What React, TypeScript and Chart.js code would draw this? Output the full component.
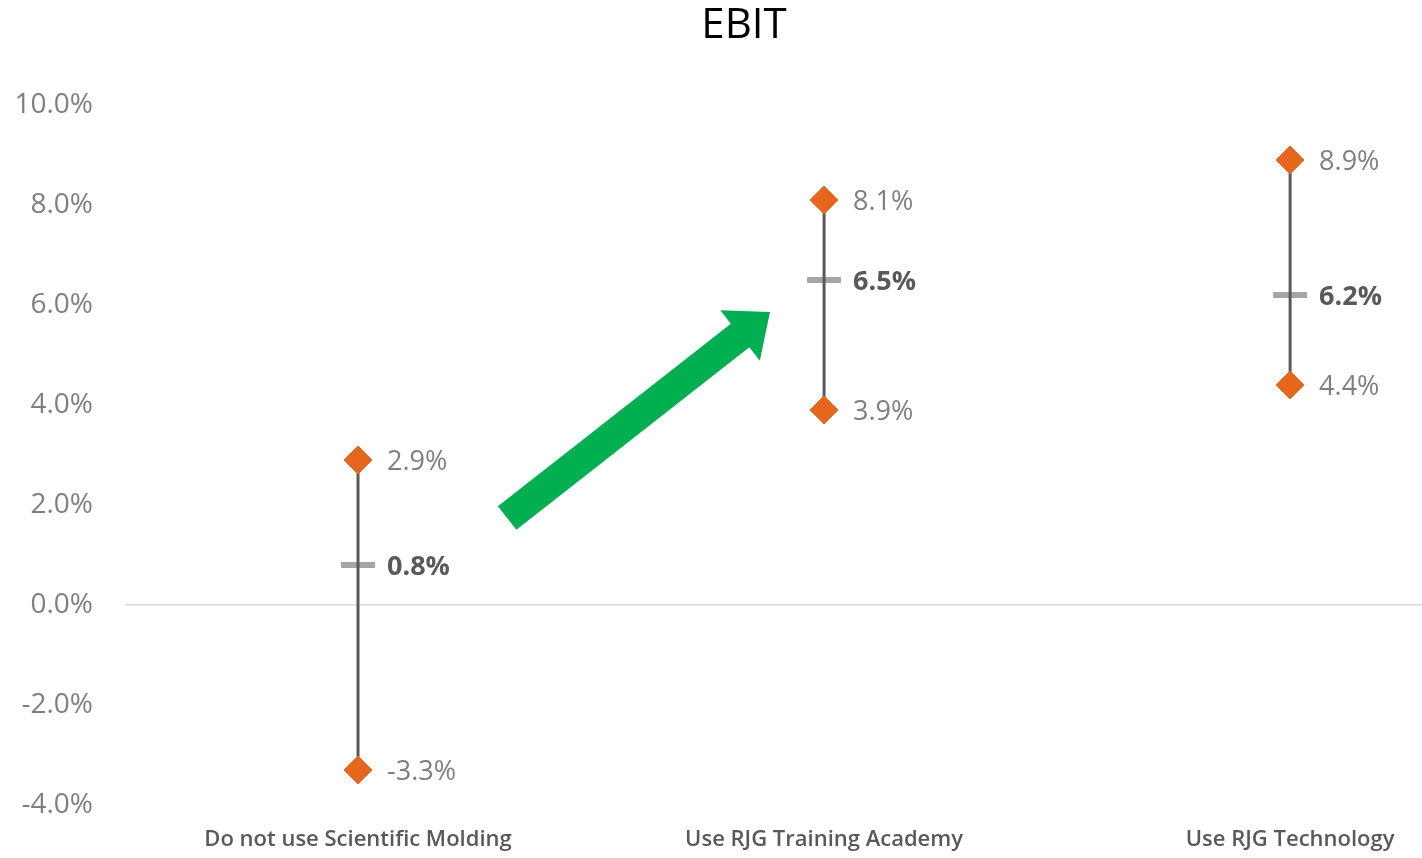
import React, { useEffect, useRef } from "react";
import { Chart, registerables } from "chart.js";

Chart.register(...registerables);

const title = "EBIT";
const categories = ["Do not use Scientific Molding", "Use RJG Training Academy", "Use RJG Technology"];
const highValues = [2.9, 8.1, 8.9];
const meanValues = [0.8, 6.5, 6.2];
const lowValues = [-3.3, 3.9, 4.4];
const yTicks = [-4, -2, 0, 2, 4, 6, 8, 10];
const arrowFrom = { x: 0.32, y: 1.74 };
const arrowTo = { x: 0.884, y: 5.86 };

const ORANGE = "#E8651C";
const FONT = "'Open Sans', 'Liberation Sans', sans-serif";

export default function App() {
  const ref = useRef<HTMLCanvasElement | null>(null);

  useEffect(() => {
    if (!ref.current) return;

    const rangeSets = categories.map((_, i) => ({
      type: "scatter" as const,
      data: [
        { x: i, y: lowValues[i] },
        { x: i, y: highValues[i] },
      ],
      showLine: true,
      borderColor: "#595959",
      borderWidth: 3,
      pointRadius: 0,
      order: 2,
    }));

    const labelPlugin = {
      id: "labels",
      afterDatasetsDraw(chart: any) {
        const { ctx, scales } = chart;
        const xs = scales.x;
        const ys = scales.y;
        ctx.save();
        // arrow
        const x1 = xs.getPixelForValue(arrowFrom.x);
        const y1 = ys.getPixelForValue(arrowFrom.y);
        const x2 = xs.getPixelForValue(arrowTo.x);
        const y2 = ys.getPixelForValue(arrowTo.y);
        const dx = x2 - x1, dy = y2 - y1;
        const len = Math.hypot(dx, dy);
        const ux = dx / len, uy = dy / len;
        const px = -uy, py = ux;
        const shaftW = 15, headW = 32, headL = 38;
        const bx = x2 - ux * headL, by = y2 - uy * headL;
        ctx.fillStyle = "#00B050";
        ctx.beginPath();
        ctx.moveTo(x1 + px * shaftW, y1 + py * shaftW);
        ctx.lineTo(bx + px * shaftW, by + py * shaftW);
        ctx.lineTo(bx + px * headW, by + py * headW);
        ctx.lineTo(x2, y2);
        ctx.lineTo(bx - px * headW, by - py * headW);
        ctx.lineTo(bx - px * shaftW, by - py * shaftW);
        ctx.lineTo(x1 - px * shaftW, y1 - py * shaftW);
        ctx.closePath();
        ctx.fill();

        // value labels
        ctx.textAlign = "left";
        ctx.textBaseline = "middle";
        categories.forEach((_, i) => {
          const x = xs.getPixelForValue(i) + 29;
          ctx.font = `27px ${FONT}`;
          ctx.fillStyle = "#7f7f7f";
          ctx.fillText(highValues[i].toFixed(1) + "%", x, ys.getPixelForValue(highValues[i]) + 2);
          ctx.fillText(lowValues[i].toFixed(1) + "%", x, ys.getPixelForValue(lowValues[i]) + 2);
          ctx.font = `bold 27px ${FONT}`;
          ctx.fillStyle = "#595959";
          ctx.fillText(meanValues[i].toFixed(1) + "%", x, ys.getPixelForValue(meanValues[i]) + 2);
        });

        // title
        ctx.font = `42px ${FONT}`;
        ctx.fillStyle = "#000000";
        ctx.textAlign = "center";
        ctx.fillText(title, chart.width / 2 + 33, 26);
        ctx.restore();
      },
    };

    const chart = new Chart(ref.current, {
      type: "scatter",
      data: {
        datasets: [
          ...rangeSets,
          {
            type: "scatter",
            data: meanValues.map((v, i) => ({ x: i, y: v })),
            pointStyle: "line",
            pointRadius: 17,
            borderColor: "#a6a6a6",
            backgroundColor: "#a6a6a6",
            pointBorderWidth: 6,
            order: 3,
          },
          {
            type: "scatter",
            data: [
              ...highValues.map((v, i) => ({ x: i, y: v })),
              ...lowValues.map((v, i) => ({ x: i, y: v })),
            ],
            pointStyle: "rectRot",
            pointRadius: 14,
            pointBorderWidth: 1,
            borderColor: ORANGE,
            backgroundColor: ORANGE,
            order: 1,
          },
        ] as any,
      },
      options: {
        animation: false,
        responsive: false,
        maintainAspectRatio: false,
        layout: { autoPadding: false, padding: { top: 105, left: 0, right: 0, bottom: 0 } },
        plugins: {
          legend: { display: false },
          tooltip: { enabled: false },
          title: { display: false },
        },
        scales: {
          x: {
            type: "linear",
            min: -0.5,
            max: 2.283,
            afterBuildTicks: (axis: any) => {
              axis.ticks = categories.map((_, i) => ({ value: i }));
            },
            afterFit: (scale: any) => {
              scale.height = 53;
              scale.paddingLeft = 0;
              scale.paddingRight = 0;
              scale.paddingTop = 0;
              scale.paddingBottom = 0;
            },
            ticks: {
              autoSkip: false,
              maxRotation: 0,
              padding: 22,
              color: "#595959",
              font: { family: FONT, size: 22, weight: "600" },
              callback: (v: any) => categories[v] ?? "",
            },
            grid: { display: false, drawTicks: false },
            border: { display: false },
          },
          y: {
            type: "linear",
            min: -4,
            max: 10,
            afterBuildTicks: (axis: any) => {
              axis.ticks = yTicks.map((v) => ({ value: v }));
            },
            afterFit: (scale: any) => {
              scale.width = 125;
              scale.paddingLeft = 0;
              scale.paddingRight = 0;
              scale.paddingTop = 0;
              scale.paddingBottom = 0;
            },
            ticks: {
              padding: 32,
              color: "#7f7f7f",
              font: { family: FONT, size: 28 },
              callback: (v: any) => Number(v).toFixed(1) + "%",
            },
            grid: {
              drawTicks: false,
              lineWidth: 1.5,
              color: (c: any) => (c.tick && c.tick.value === 0 ? "#d9d9d9" : "rgba(0,0,0,0)"),
            },
            border: { display: false },
          },
        },
      },
      plugins: [labelPlugin],
    });

    return () => chart.destroy();
  }, []);

  return (
    <div style={{ position: "absolute", left: 0, top: 0, width: 1422, height: 858, background: "#fff" }}>
      <canvas ref={ref} width={1422} height={858} style={{ display: "block", width: 1422, height: 858 }} />
    </div>
  );
}
